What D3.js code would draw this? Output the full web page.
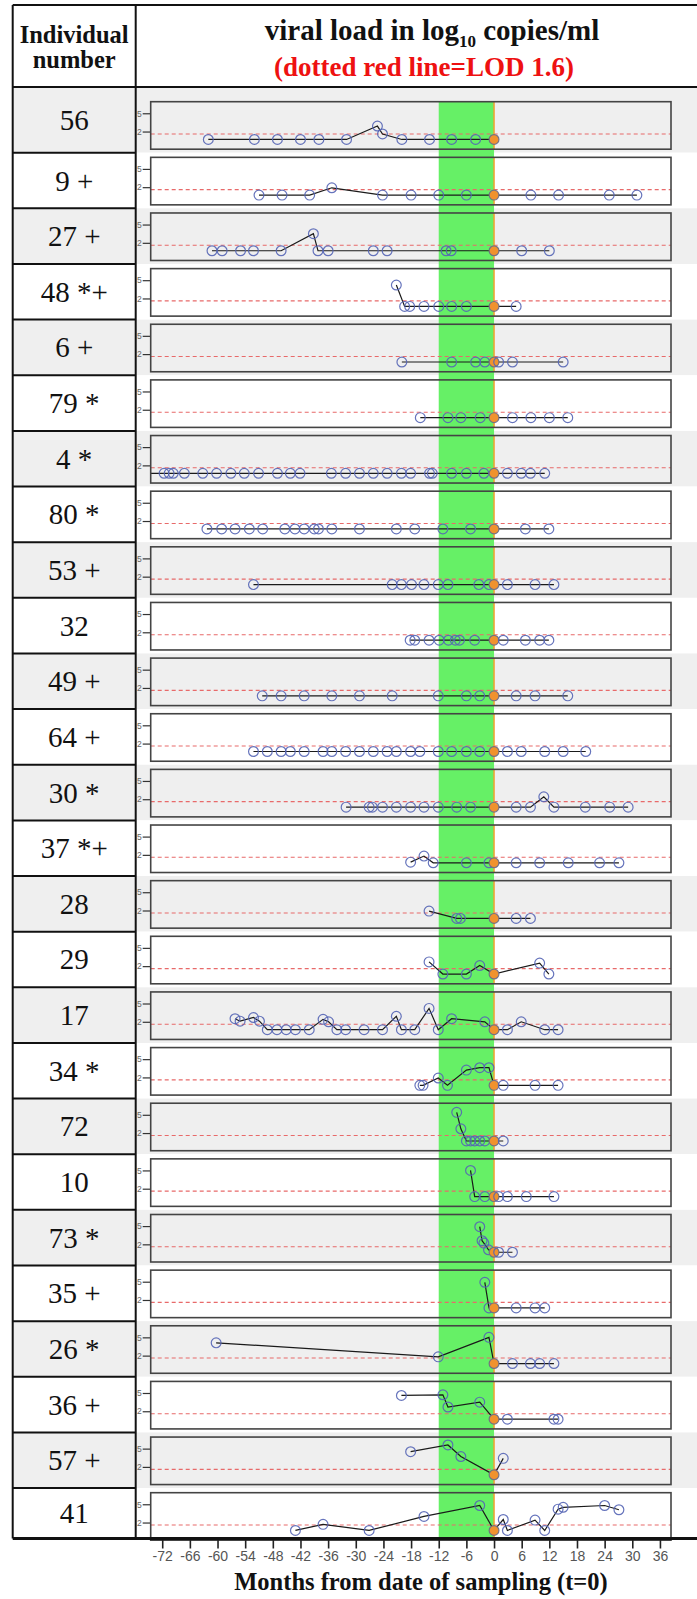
<!DOCTYPE html>
<html>
<head>
<meta charset="utf-8">
<script src="https://cdn.jsdelivr.net/npm/d3@7"></script>
<style>
	body { margin: 0; background: #ffffff; }
	#chart { width: 697px; height: 1599px; }
</style>
</head>
<body>
<div id="chart"></div>
<script>

//Row labels, top to bottom
var individuals = ["56", "9 +", "27 +", "48 *+", "6 +", "79 *", "4 *", "80 *", "53 +", "32", "49 +", "64 +", "30 *",
	"37 *+", "28", "29", "17", "34 *", "72", "10", "73 *", "35 +", "26 *", "36 +", "57 +", "41"];

//Sampling times, months from date of sampling (t=0), one list per individual
var sample_months = [
	[-62, -52, -47, -42, -38, -32, -25.3, -24.2, -20, -14, -9.2, -4, 0],
	[-51, -46, -40, -35.2, -24.2, -18, -12, -6, 0, 8, 14, 25, 31],
	[-61.2, -59, -55, -52.2, -46.2, -39.2, -38.2, -36, -26.2, -23.2, -10.4, -9.3, 0, 6, 12],
	[-21.2, -19.4, -18.3, -15.2, -12, -9.2, -6, 0, 4.8],
	[-20, -9.2, -4, -2, 0, 1, 4, 15],
	[-16, -10, -7.2, -3, 0, 4, 8, 12, 16],
	[-76, -71.6, -70.5, -69.6, -67.2, -63.2, -60.2, -57.1, -54.2, -51.1, -47, -44.2, -42.1, -35.3, -32.2, -29.2, -26.2,
		-23.2, -20.1, -18.1, -14, -13.4, -9.2, -6, -2.2, 0, 2.9, 5.9, 7.9, 11],
	[-62.3, -59.1, -56.2, -53.1, -50.2, -45.4, -43.2, -41.2, -39, -38.1, -35.2, -29.2, -21.2, -17.2, -11.1, -5.1, 0, 6.8, 11.9],
	[-52.2, -22.1, -20.1, -17.9, -15.2, -12.1, -10, -3.3, -1.1, 0, 2.9, 8.9, 13],
	[-18.2, -17.2, -14.1, -11.9, -9.9, -8.4, -7.5, -4.2, 0, 2, 6.8, 9.9, 11.9],
	[-50.3, -46.2, -41.2, -35.2, -29.2, -22.1, -12.1, -6, -3.1, 0, 4.8, 8.9, 16],
	[-52.2, -49.2, -46.2, -44.2, -41.2, -37.1, -35.2, -32.2, -29.2, -26.2, -23.2, -21.2, -18.1, -16.1, -12.1, -9.2, -6,
		-3.1, 0, 2.9, 5.9, 11, 15, 19.9],
	[-32.1, -27.1, -26.4, -24.2, -21.2, -18.1, -15.2, -12.1, -8.1, -5.1, 0, 4.8, 7.9, 10.8, 13, 19.8, 25.1, 29.1],
	[-18.1, -15.2, -13.2, -6, -1.1, 0, 4.8, 9.9, 16.1, 22.9, 27.1],
	[-14.1, -8.1, -7.3, 0, 4.8, 7.9],
	[-14.1, -11.1, -6, -3.1, 0, 9.9, 11.9],
	[-56.2, -55.1, -52.2, -50.9, -49.2, -47.1, -45.1, -43.1, -40.1, -37.1, -35.9, -34.1, -32.2, -28.2, -24.2, -21.2,
		-20.1, -17.2, -14.1, -12.1, -9.2, -2, 0, 2.9, 5.9, 11, 13.9],
	[-16.1, -15.4, -12.1, -10.1, -6, -3.1, -1.1, 0, 2, 8.9, 13.9],
	[-8.1, -7.2, -6, -5.1, -4.2, -3.1, -2, 0, 2],
	[-5.1, -4.2, -2, 0, 1, 2.9, 7, 13],
	[-3.1, -2.6, -2.2, -1.2, 0, 1, 4],
	[-2, -1.1, 0, 4.8, 8.9, 11],
	[-60.3, -12.1, -1.1, 0, 4, 7.9, 9.9, 13],
	[-20.1, -11.1, -10, -3.1, 0, 2.9, 13, 13.9],
	[-18.1, -10, -7.2, 0, 2],
	[-43.1, -37.1, -27.1, -15.2, -3.1, 0, 2, 2.9, 8.9, 11, 13.9, 15, 24, 27.1]
];

//Viral load, log10 copies/ml (values below LOD are plotted at 0.7)
var viral_loads = [
	[0.7, 0.7, 0.7, 0.7, 0.7, 0.7, 2.9, 1.6, 0.7, 0.7, 0.7, 0.7, 0.7],
	[0.7, 0.7, 0.7, 1.9, 0.7, 0.7, 0.7, 0.7, 0.7, 0.7, 0.7, 0.7, 0.7],
	[0.7, 0.7, 0.7, 0.7, 0.7, 3.5, 0.7, 0.7, 0.7, 0.7, 0.7, 0.7, 0.7, 0.7, 0.7],
	[4.2, 0.7, 0.7, 0.7, 0.7, 0.7, 0.7, 0.7, 0.7],
	[0.7, 0.7, 0.7, 0.7, 0.7, 0.7, 0.7, 0.7],
	[0.7, 0.7, 0.7, 0.7, 0.7, 0.7, 0.7, 0.7, 0.7],
	[0.7, 0.7, 0.7, 0.7, 0.7, 0.7, 0.7, 0.7, 0.7, 0.7, 0.7, 0.7, 0.7, 0.7, 0.7, 0.7, 0.7, 0.7, 0.7, 0.7, 0.7, 0.7, 0.7,
		0.7, 0.7, 0.7, 0.7, 0.7, 0.7, 0.7],
	[0.7, 0.7, 0.7, 0.7, 0.7, 0.7, 0.7, 0.7, 0.7, 0.7, 0.7, 0.7, 0.7, 0.7, 0.7, 0.7, 0.7, 0.7, 0.7],
	[0.7, 0.7, 0.7, 0.7, 0.7, 0.7, 0.7, 0.7, 0.7, 0.7, 0.7, 0.7, 0.7],
	[0.7, 0.7, 0.7, 0.7, 0.7, 0.7, 0.7, 0.7, 0.7, 0.7, 0.7, 0.7, 0.7],
	[0.7, 0.7, 0.7, 0.7, 0.7, 0.7, 0.7, 0.7, 0.7, 0.7, 0.7, 0.7, 0.7],
	[0.7, 0.7, 0.7, 0.7, 0.7, 0.7, 0.7, 0.7, 0.7, 0.7, 0.7, 0.7, 0.7, 0.7, 0.7, 0.7, 0.7, 0.7, 0.7, 0.7, 0.7, 0.7, 0.7, 0.7],
	[0.7, 0.7, 0.7, 0.7, 0.7, 0.7, 0.7, 0.7, 0.7, 0.7, 0.7, 0.7, 0.7, 2.4, 0.7, 0.7, 0.7, 0.7],
	[0.8, 1.8, 0.7, 0.7, 0.7, 0.7, 0.7, 0.7, 0.7, 0.7, 0.7],
	[1.9, 0.7, 0.7, 0.7, 0.7, 0.7],
	[2.7, 0.7, 0.7, 2.1, 0.7, 2.5, 0.7],
	[2.5, 2.1, 2.7, 2.1, 0.7, 0.7, 0.7, 0.7, 0.7, 2.4, 2.0, 0.7, 0.7, 0.7, 0.7, 2.9, 0.7, 0.7, 4.2, 0.7, 2.5, 2.0, 0.7,
		0.7, 2.0, 0.7, 0.7],
	[0.7, 0.7, 1.9, 0.7, 3.2, 3.6, 3.6, 0.7, 0.7, 0.7, 0.7],
	[5.4, 2.7, 0.7, 0.7, 0.7, 0.7, 0.7, 0.7, 0.7],
	[5.0, 0.7, 0.7, 0.7, 0.7, 0.7, 0.7, 0.7],
	[4.9, 2.6, 2.2, 1.1, 0.7, 0.7, 0.7],
	[4.9, 0.7, 0.7, 0.7, 0.7, 0.7],
	[4.1, 1.8, 5.0, 0.7, 0.7, 0.7, 0.7, 0.7],
	[4.6, 4.7, 2.7, 3.5, 0.7, 0.7, 0.7, 0.7],
	[4.5, 5.6, 3.7, 0.7, 3.4],
	[0.7, 1.7, 0.7, 3.0, 4.8, 0.7, 2.5, 0.7, 2.4, 0.7, 4.2, 4.5, 4.8, 4.1]
];

var lod = 1.6;
var x_ticks = [-72, -66, -60, -54, -48, -42, -36, -30, -24, -18, -12, -6, 0, 6, 12, 18, 24, 30, 36];
var y_ticks = [2, 5];
var window_months = [-12, 0];


function PanelTable(frame_id)
{
	//Draws the table of small viral load panels inside the DOM element <frame_id>
	var self = this;

	self.frame = d3.select("#" + frame_id);
	self.svg = self.frame.append("svg")
		.attr("width", 697)
		.attr("height", 1599);

	//table geometry
	self.table = {left: 12.7, divider: 135.7, right: 697, top: 5, header: 87, bottom: 1538.5};
	self.row = {first_bottom: 152.7, pitch: 55.64};
	self.panel = {left: 150.7, right: 671, top: 101.7, height: 47.5};

	self.x = d3.scaleLinear()
		.domain([-74.5, 38.4])
		.range([self.panel.left, self.panel.right]);

	self.drawRows();
	self.drawHeader();
	self.drawWindow();
	self.drawPanels();
	self.drawAxis();
	self.drawGrid();
}

PanelTable.prototype.rowTop = function(i)
{
	var self = this;
	return i == 0 ? self.table.header : self.row.first_bottom + (i - 1) * self.row.pitch;
};

PanelTable.prototype.rowBottom = function(i)
{
	var self = this;
	return i == individuals.length - 1 ? self.table.bottom : self.row.first_bottom + i * self.row.pitch;
};

PanelTable.prototype.panelTop = function(i)
{
	var self = this;
	return self.panel.top + i * self.row.pitch;
};

PanelTable.prototype.drawRows = function()
{
	var self = this;

	//alternating grey / white row backgrounds over the full width
	self.svg.append("g")
		.attr("class", "rows")
		.selectAll("rect")
		.data(individuals)
		.enter()
			.append("rect")
				.attr("x", self.table.left)
				.attr("y", function(d, i){ return self.rowTop(i); })
				.attr("width", self.table.right - self.table.left)
				.attr("height", function(d, i){ return self.rowBottom(i) - self.rowTop(i); })
				.attr("fill", function(d, i){ return i % 2 == 0 ? "#efefef" : "#ffffff"; });

	self.svg.append("g")
		.attr("class", "row_labels")
		.selectAll("text")
		.data(individuals)
		.enter()
			.append("text")
				.attr("x", (self.table.left + self.table.divider) / 2)
				.attr("y", function(d, i){ return (self.rowTop(i) + self.rowBottom(i)) / 2 + 10; })
				.attr("text-anchor", "middle")
				.style("font-family", "'Liberation Serif', 'Times New Roman', serif")
				.style("font-size", "29px")
				.attr("fill", "#111")
				.text(function(d){ return d; });
};

PanelTable.prototype.drawHeader = function()
{
	var self = this;
	var serif = "'Liberation Serif', 'Times New Roman', serif";
	var head = self.svg.append("g").attr("class", "header")
		.style("font-family", serif)
		.style("font-weight", "bold");

	var cx = (self.table.left + self.table.divider) / 2;
	head.append("text").attr("x", cx).attr("y", 43).attr("text-anchor", "middle")
		.style("font-size", "24.5px").attr("fill", "#111").text("Individual");
	head.append("text").attr("x", cx).attr("y", 68).attr("text-anchor", "middle")
		.style("font-size", "24.5px").attr("fill", "#111").text("number");

	var line1 = head.append("text").attr("x", 432).attr("y", 40).attr("text-anchor", "middle")
		.style("font-size", "29px").attr("fill", "#111");
	line1.append("tspan").text("viral load in log");
	line1.append("tspan").attr("dy", 7).style("font-size", "17px").text("10");
	line1.append("tspan").attr("dy", -7).text(" copies/ml");

	head.append("text").attr("x", 424).attr("y", 76).attr("text-anchor", "middle")
		.style("font-size", "27px").attr("fill", "#ee1111").text("(dotted red line=LOD " + lod + ")");
};

PanelTable.prototype.drawWindow = function()
{
	var self = this;
	var y0 = self.panelTop(0);
	var y1 = self.table.bottom;

	//green window from -12 months to sampling date
	self.svg.append("rect")
		.attr("x", self.x(window_months[0]))
		.attr("y", y0)
		.attr("width", self.x(window_months[1]) - self.x(window_months[0]))
		.attr("height", y1 - y0)
		.attr("fill", "#66f066");
};

PanelTable.prototype.drawPanels = function()
{
	var self = this;

	var y = d3.scaleLinear()
		.domain([-0.9, 6.9])
		.range([self.panel.height, 0]);

	var line = d3.line()
		.x(function(d){ return self.x(d[0]); })
		.y(function(d){ return y(d[1]); });

	var defs = self.svg.append("defs");

	individuals.forEach(function(name, i)
		{
			var top = self.panelTop(i);
			var points = d3.zip(sample_months[i], viral_loads[i]);

			//clip rect in page x, panel y
			defs.append("clipPath")
				.attr("id", "clip_" + i)
				.append("rect")
					.attr("x", self.panel.left)
					.attr("y", 0)
					.attr("width", self.panel.right - self.panel.left)
					.attr("height", self.panel.height);

			var g = self.svg.append("g")
				.attr("class", "panel")
				.attr("transform", "translate(" + self.panel.left + "," + top + ")");

			//small y axis with the 2 and 5 ticks
			var axis = g.append("g")
				.call(d3.axisLeft(y).tickValues(y_ticks).tickSize(8).tickPadding(1));
			axis.select(".domain").remove();
			axis.selectAll("line").attr("stroke", "#333").attr("stroke-width", 1.2);
			axis.selectAll("text")
				.attr("fill", "#666")
				.style("font-family", "'Liberation Sans', Arial, sans-serif")
				.style("font-size", "8.5px");

			var inner = g.append("g")
				.attr("transform", "translate(" + (-self.panel.left) + ",0)")
				.attr("clip-path", "url(#clip_" + i + ")");

			inner.append("line")
				.attr("x1", self.panel.left)
				.attr("x2", self.panel.right)
				.attr("y1", y(lod))
				.attr("y2", y(lod))
				.attr("stroke", "#e86a6a")
				.attr("stroke-width", 1.1)
				.attr("stroke-dasharray", "4,3");

			//orange line at t=0
			inner.append("line")
				.attr("x1", self.x(0))
				.attr("x2", self.x(0))
				.attr("y1", 0)
				.attr("y2", self.panel.height)
				.attr("stroke", "#f0a030")
				.attr("stroke-width", 1.5);

			inner.append("path")
				.datum(points)
				.attr("d", line)
				.attr("fill", "none")
				.attr("stroke", "#1a1a1a")
				.attr("stroke-width", 1.2);

			inner.selectAll("circle")
				.data(points)
				.enter()
					.append("circle")
						.attr("cx", function(d){ return self.x(d[0]); })
						.attr("cy", function(d){ return y(d[1]); })
						.attr("r", 4.9)
						.attr("fill", function(d){ return d[0] == 0 ? "#f0922e" : "none"; })
						.attr("stroke", function(d){ return d[0] == 0 ? "#6a6a8a" : "#5565b5"; })
						.attr("stroke-opacity", 0.9)
						.attr("stroke-width", 1.2);

			g.append("rect")
				.attr("x", 0)
				.attr("y", 0)
				.attr("width", self.panel.right - self.panel.left)
				.attr("height", self.panel.height)
				.attr("fill", "none")
				.attr("stroke", "#444")
				.attr("stroke-width", 1.6);
		}
	);
};

PanelTable.prototype.drawAxis = function()
{
	var self = this;

	var axis = self.svg.append("g")
		.attr("class", "x_axis")
		.attr("transform", "translate(0," + (self.table.bottom + 1) + ")")
		.call(d3.axisBottom(self.x)
			.tickValues(x_ticks)
			.tickSize(9)
			.tickPadding(3)
			.tickFormat(function(d){ return String(d); }));

	axis.select(".domain").remove();
	axis.selectAll("line").attr("stroke", "#222").attr("stroke-width", 1.6);
	axis.selectAll("text")
		.attr("fill", "#555")
		.style("font-family", "'Liberation Sans', Arial, sans-serif")
		.style("font-size", "14px");

	self.svg.append("text")
		.attr("x", 421)
		.attr("y", 1590)
		.attr("text-anchor", "middle")
		.style("font-family", "'Liberation Serif', 'Times New Roman', serif")
		.style("font-weight", "bold")
		.style("font-size", "24.5px")
		.attr("fill", "#111")
		.text("Months from date of sampling (t=0)");
};

PanelTable.prototype.drawGrid = function()
{
	var self = this;
	var t = self.table;
	var g = self.svg.append("g").attr("class", "grid").attr("stroke", "#111");

	g.append("line").attr("x1", t.left).attr("x2", t.right).attr("y1", t.top).attr("y2", t.top).attr("stroke-width", 2);
	g.append("line").attr("x1", t.left).attr("x2", t.right).attr("y1", t.header).attr("y2", t.header).attr("stroke-width", 2);
	g.append("line").attr("x1", t.left).attr("x2", t.right).attr("y1", t.bottom).attr("y2", t.bottom).attr("stroke-width", 3);
	g.append("line").attr("x1", t.left).attr("x2", t.left).attr("y1", t.top).attr("y2", t.bottom).attr("stroke-width", 2);
	g.append("line").attr("x1", t.divider).attr("x2", t.divider).attr("y1", t.top).attr("y2", t.bottom).attr("stroke-width", 2);

	//row separators only in the number column
	g.selectAll(".sep")
		.data(individuals.slice(0, -1))
		.enter()
			.append("line")
				.attr("class", "sep")
				.attr("x1", t.left)
				.attr("x2", t.divider)
				.attr("y1", function(d, i){ return self.rowBottom(i); })
				.attr("y2", function(d, i){ return self.rowBottom(i); })
				.attr("stroke-width", 2);
};

var table_1 = new PanelTable("chart");

</script>
</body>
</html>
